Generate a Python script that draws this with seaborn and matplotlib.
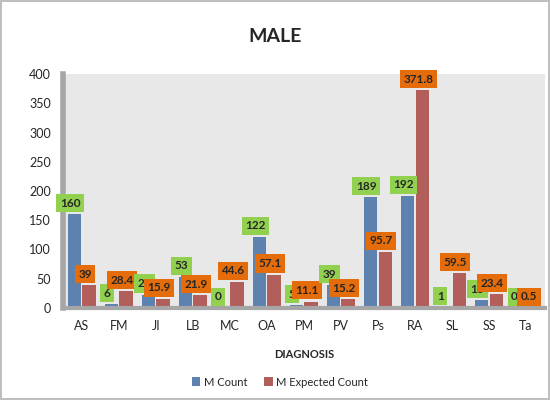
import matplotlib
matplotlib.use("Agg")
import matplotlib.pyplot as plt
import pandas as pd
import seaborn as sns

diagnosis = ["AS", "FM", "JI", "LB", "MC", "OA", "PM", "PV", "Ps", "RA", "SL", "SS", "Ta"]
m_count = [160, 6, 23, 53, 0, 122, 5, 39, 189, 192, 1, 13, 0]
m_expected = [39, 28.4, 15.9, 21.9, 44.6, 57.1, 11.1, 15.2, 95.7, 371.8, 59.5, 23.4, 0.5]
count_labels = ["160", "6", "23", "53", "0", "122", "5", "39", "189", "192", "1", "13", "0"]
expected_labels = ["39", "28.4", "15.9", "21.9", "44.6", "57.1", "11.1", "15.2", "95.7", "371.8", "59.5", "23.4", "0.5"]

df = pd.DataFrame({
    "DIAGNOSIS": diagnosis * 2,
    "value": m_count + m_expected,
    "series": ["M Count"] * len(diagnosis) + ["M Expected Count"] * len(diagnosis),
})

sns.set_style("white")
plt.rcParams["font.family"] = ["Lato", "DejaVu Sans"]

fig = plt.figure(figsize=(5.5, 4), dpi=100)
fig.patch.set_edgecolor("#bfbfbf")
fig.patch.set_linewidth(1.5)
ax = fig.add_axes([0.115, 0.23, 0.875, 0.585])

sns.barplot(data=df, x="DIAGNOSIS", y="value", hue="series",
            palette=["#4f81bd", "#c0504d"], width=0.8, gap=0.08,
            edgecolor="none", ax=ax, legend=True)

ax.set_facecolor("#e8e8e8")
ax.set_ylim(0, 400)
ax.set_yticks(range(0, 401, 50))
ax.set_xlim(-0.5, len(diagnosis) - 0.5)
for s in ["top", "right"]:
    ax.spines[s].set_visible(False)
ax.spines["left"].set_color("#a6a6a6")
ax.spines["left"].set_linewidth(4)
ax.spines["bottom"].set_color("#a6a6a6")
ax.spines["bottom"].set_linewidth(3)
ax.tick_params(axis="both", length=0, labelsize=9, pad=9)
ax.set_ylabel("")
ax.set_xlabel("DIAGNOSIS", fontsize=8, fontweight="bold", labelpad=12)

off = 0.8 / 4
for i in range(len(diagnosis)):
    ax.annotate(count_labels[i], (i - off, m_count[i]), xytext=(-3, 4),
                textcoords="offset points", ha="center", va="bottom",
                fontsize=8.5, fontweight="bold",
                bbox=dict(boxstyle="square,pad=0.3", fc="#92d050", ec="none"))
    ax.annotate(expected_labels[i], (i + off, m_expected[i]), xytext=(-3, 4),
                textcoords="offset points", ha="center", va="bottom",
                fontsize=8.5, fontweight="bold",
                bbox=dict(boxstyle="square,pad=0.3", fc="#e46c0a", ec="none"))

ax.legend(loc="upper center", bbox_to_anchor=(0.45, -0.25), ncol=2, frameon=False,
          fontsize=8, handlelength=0.8, handleheight=0.8, handletextpad=0.3,
          columnspacing=1.5)

fig.suptitle("MALE", fontsize=14, fontweight="bold", y=0.93)

fig.savefig("out.png", dpi=100)
